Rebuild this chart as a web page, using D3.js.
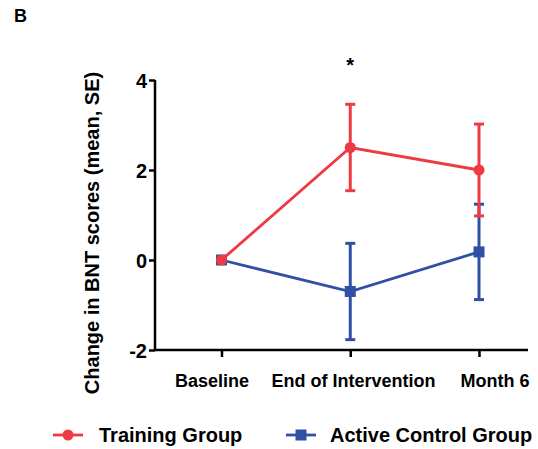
<!DOCTYPE html>
<html>
<head>
<meta charset="utf-8">
<script src="https://cdn.jsdelivr.net/npm/d3@7"></script>
<style>
  html, body { margin: 0; padding: 0; background: #fff; }
  svg { display: block; font-family: "Liberation Sans", Arial, sans-serif; font-weight: bold; }
</style>
</head>
<body>
<svg id="chart" width="538" height="449"></svg>
<script>
// Time points on the x axis
const timepoints = ["Baseline", "End of Intervention", "Month 6"];

// Mean change in BNT score and standard error per group
const trainingMean = [0, 2.5, 2.0];
const trainingSE   = [0, 0.96, 1.02];
const controlMean  = [0, -0.7, 0.18];
const controlSE    = [0, 1.07, 1.06];

const yTicks = [-2, 0, 2, 4];

const series = [
  { name: "Training Group", mean: trainingMean, se: trainingSE, color: "#ee3a43", shape: "circle" },
  { name: "Active Control Group", mean: controlMean, se: controlSE, color: "#3050a3", shape: "square" }
];

const FONT = "Liberation Sans, Arial, sans-serif";
const svg = d3.select("#chart");
const plotLeft = 155, plotRight = 528, plotTop = 80, plotBottom = 350;

const x = d3.scalePoint().domain(timepoints).range([221.5, 479]);
// category labels are spread a little wider than the ticks
const xLabel = d3.scalePoint().domain(timepoints).range([212, 495]);
const y = d3.scaleLinear().domain([-2, 4]).range([plotBottom, plotTop]);

// Panel letter
svg.append("text").attr("x", 14).attr("y", 22).attr("font-size", 18).text("B");

// Y axis
const yAxis = svg.append("g").attr("transform", `translate(${plotLeft},0)`)
  .call(d3.axisLeft(y).tickValues(yTicks).tickSize(6).tickPadding(2)
    .tickFormat(d => String(d)));
yAxis.select(".domain").attr("stroke", "#000").attr("stroke-width", 2.5).attr("d", `M0,${plotTop}V${plotBottom}`);
yAxis.selectAll(".tick line").attr("stroke", "#000").attr("stroke-width", 2.5);
yAxis.selectAll(".tick text").attr("font-size", 20).attr("font-family", FONT)
  .attr("font-weight", "bold").attr("fill", "#000").attr("dy", "0.36em");

// X axis
const xAxis = svg.append("g").attr("transform", `translate(0,${plotBottom})`)
  .call(d3.axisBottom(x).tickSize(7).tickFormat(""));
xAxis.select(".domain").attr("stroke", "#000").attr("stroke-width", 2.5).attr("d", `M${plotLeft},0H${plotRight}`);
xAxis.selectAll(".tick line").attr("stroke", "#000").attr("stroke-width", 2.5);

svg.append("g").selectAll("text").data(timepoints).join("text")
  .attr("x", d => xLabel(d)).attr("y", 387)
  .attr("text-anchor", "middle").attr("font-size", 18).text(d => d);

// Y axis title
svg.append("text")
  .attr("transform", `translate(99,233) rotate(-90)`)
  .attr("text-anchor", "middle").attr("font-size", 20)
  .text("Change in BNT scores (mean, SE)");

// Significance marker
svg.append("text").attr("x", x("End of Intervention")).attr("y", 72)
  .attr("text-anchor", "middle").attr("font-size", 20).text("*");

const line = d3.line().x((d, i) => x(timepoints[i])).y(d => y(d));

function marker(g, shape, cx, cy, color) {
  if (shape === "circle") {
    g.append("circle").attr("cx", cx).attr("cy", cy).attr("r", 5.5).attr("fill", color);
  } else {
    g.append("rect").attr("x", cx - 5.5).attr("y", cy - 5.5).attr("width", 11).attr("height", 11).attr("fill", color);
  }
}

// Draw control first so training sits on top at baseline
[series[1], series[0]].forEach(s => {
  const g = svg.append("g");
  // error bars
  s.mean.forEach((m, i) => {
    if (!s.se[i]) return;
    const cx = x(timepoints[i]);
    const y1 = y(m + s.se[i]), y2 = y(m - s.se[i]);
    g.append("line").attr("x1", cx).attr("x2", cx).attr("y1", y1).attr("y2", y2)
      .attr("stroke", s.color).attr("stroke-width", 3);
    [y1, y2].forEach(yy => g.append("line").attr("x1", cx - 5).attr("x2", cx + 5)
      .attr("y1", yy).attr("y2", yy).attr("stroke", s.color).attr("stroke-width", 3));
  });
  g.append("path").datum(s.mean).attr("d", line).attr("fill", "none")
    .attr("stroke", s.color).attr("stroke-width", 2.8);
  s.mean.forEach((m, i) => marker(g, s.shape, x(timepoints[i]), y(m), s.color));
});

// Legend
const legendY = 435;
const legendItems = [
  { s: series[0], lx: 53, tx: 99 },
  { s: series[1], lx: 286, tx: 330 }
];
legendItems.forEach(({ s, lx, tx }) => {
  const g = svg.append("g");
  g.append("line").attr("x1", lx).attr("x2", lx + 30).attr("y1", legendY).attr("y2", legendY)
    .attr("stroke", s.color).attr("stroke-width", 2.8);
  marker(g, s.shape, lx + 15, legendY, s.color);
  g.append("text").attr("x", tx).attr("y", legendY).attr("dy", "0.36em")
    .attr("font-size", 20).text(s.name);
});
</script>
</body>
</html>
